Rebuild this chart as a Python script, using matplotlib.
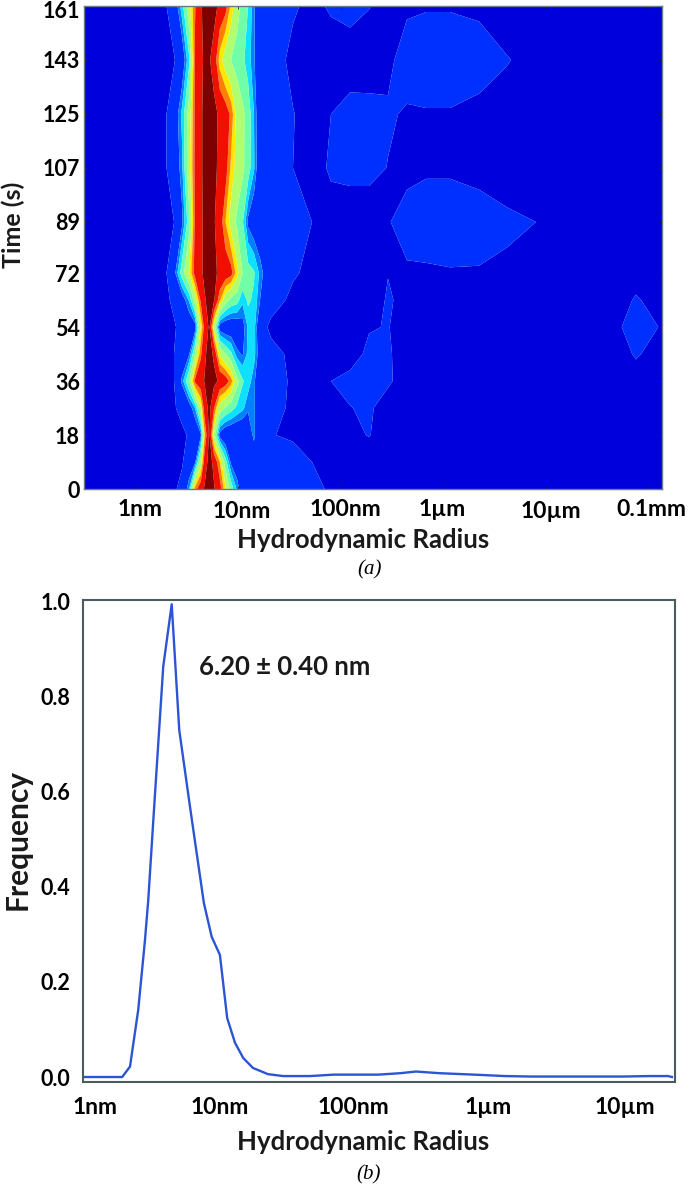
import numpy as np
import matplotlib
matplotlib.use("Agg")
import matplotlib.pyplot as plt
from matplotlib.transforms import ScaledTranslation

plt.rcParams['font.family'] = ['Lato', 'DejaVu Sans']
plt.rcParams['font.weight'] = 'bold'

# panel a: log10(radius / nm) of each column, signal in percent of max per time
log_r = [-0.508, 0.186, 0.298, 0.371, 0.449, 0.518, 0.576, 0.632, 0.669, 0.716, 0.762, 0.818, 0.874,
         0.928, 0.986, 1.041, 1.094, 1.152, 1.211, 1.318, 1.533, 1.719, 1.904, 2.09, 2.275, 2.461,
         2.646, 2.832, 3.066, 3.35, 3.623, 3.906, 4.277, 4.512, 4.697, 4.883, 5.137]
time_s = [0, 9, 18, 27, 36, 45, 54, 63, 72, 89, 107, 125, 143, 161]

t0 = [2, 5, 7, 8.5, 13, 32, 73, 86, 91, 96, 91, 83, 64, 46, 31, 18, 16, 15, 15, 15, 14, 12, 9, 6, 5, 5, 5, 4, 4, 4, 4, 3, 3, 3, 3, 3, 2]
t9 = [2, 4, 6, 7, 9, 16, 24, 56, 84, 94, 87, 70, 44, 24, 18, 15, 15, 19, 15, 14, 13, 10, 7, 5, 5, 5, 5, 4, 4, 4, 4, 3, 3, 3, 3, 3, 2]
t18 = [2, 4, 5, 6, 8, 11, 16, 24, 68, 92, 55, 22, 16, 15, 14, 14, 20, 28, 14, 10.3, 9, 8, 6, 8, 10.4, 6, 5, 4, 4, 4, 4, 3, 3, 3, 3, 3, 2]
t27 = [2, 5, 7, 9, 13, 20, 32, 60, 84, 93, 78, 56, 49, 44, 38, 34, 27, 28, 14, 12, 9, 7, 6, 9.8, 11, 7, 5, 5, 5, 4, 4, 3, 3, 3, 3, 4, 3]
t36 = [2, 5, 8, 10, 28, 50, 80, 86, 90.5, 97, 93, 88, 84, 74, 54, 41, 36, 28, 15, 13, 9, 7, 10, 12, 14, 11, 7, 6, 5, 5, 4, 4, 4, 5, 6, 8, 6]
t45 = [2, 5, 8, 10, 17, 25, 50, 76, 88, 94, 88, 60, 50, 42, 28, 25, 34, 35, 20, 13, 8, 6, 6, 7, 11.5, 10.8, 7, 6, 5, 4, 4, 4, 5, 7, 8, 10.5, 8]
t54 = [2, 5, 7, 9, 13, 17, 21, 62, 82, 92, 58, 20, 17, 17, 18, 22, 33, 36, 14, 8, 6, 5, 4, 5, 9.5, 10.3, 7, 6, 5, 4, 4, 4, 5, 7, 9, 13, 9.5]
t63 = [3, 6, 8.5, 12, 20, 33, 55, 80, 89, 93, 91, 72, 55, 47, 44, 34, 42, 38, 26, 14, 8, 6, 5, 5, 8, 10.4, 9, 8, 7.5, 7, 6, 6, 5, 6, 8, 10.5, 8]
t72 = [3, 7, 10, 22, 45, 62, 82, 88, 92, 97, 92, 88, 85, 82, 66, 50, 44, 41, 30, 15, 11, 8, 6, 5, 6, 9.9, 9, 9, 9.5, 9.5, 8.5, 8, 6, 5, 6, 8, 6]
t89 = [2, 5, 8, 10, 24, 46, 80, 87, 93, 96, 91, 84, 70, 57, 48, 41, 24, 18, 16, 15, 13, 10, 7, 6, 6, 9.5, 13, 14, 14, 13, 11.5, 10, 6, 5, 4, 4, 3]
t107 = [3, 7, 10, 17, 30, 58, 80, 88, 93, 97, 93, 87, 83, 68, 58, 52, 45, 33, 17, 15, 10, 7, 11, 12, 12, 9.8, 8, 9, 9, 8, 6, 4, 3, 3, 3, 3, 2]
t125 = [3, 7, 10, 18, 34, 55, 80, 88, 93, 97, 93, 88, 84, 76, 58, 52, 46, 32, 17, 15, 10.3, 7, 10, 12, 12.5, 10.8, 9.3, 9.5, 9.5, 8.5, 6, 5, 4, 3, 3, 3, 2]
t143 = [2, 5, 7, 9, 18, 38, 80, 87, 92, 91, 85, 66, 56, 50, 46, 42, 36, 27, 17, 14, 8, 5, 6, 7, 6, 8.5, 13, 14, 14, 12.5, 10.5, 7, 3, 3, 3, 3, 2]
t161 = [2, 6, 10, 18, 36, 58, 77, 88, 95, 97, 94, 87, 82, 68, 54, 47, 40, 27, 17, 15, 11, 8, 11, 12, 10.3, 7, 9, 9.5, 9.5, 9, 5, 3, 3, 3, 3, 3, 2]

level_edges = [0, 10, 26, 32, 40, 50, 62, 70, 78, 90, 100]
level_colors = ['#0000dc', '#0030ff', '#0080ff', '#10e0ff', '#70ffa8', '#b0ff70',
                '#ffe800', '#ff8000', '#f01000', '#7f0000']

y_ticks = [0, 18, 36, 54, 72, 89, 107, 125, 143, 161]
size_ticks_a = [0, 1, 2, 3, 4, 5]
size_names_a = ['1nm', '10nm', '100nm', '1µm', '10µm', '0.1mm']
# the pasted labels sit a little off their ticks (pixels right, pixels down)
label_nudge_a = [(4.5, 0), (3.5, 2), (4.5, 0), (-1, 0), (5, 2), (3, 0)]

# panel b: mean size distribution
b_log_r = [-0.045, 0.236, 0.295, 0.357, 0.408, 0.433, 0.476, 0.546, 0.610, 0.667, 0.748, 0.853, 0.912,
           0.974, 1.029, 1.088, 1.150, 1.224, 1.337, 1.450, 1.654, 1.835, 2.168, 2.334, 2.455, 2.636,
           2.893, 3.127, 3.323, 3.693, 4.018, 4.222, 4.358, 4.388]
b_freq = [0, 0, 0.022, 0.141, 0.288, 0.373, 0.562, 0.864, 0.995, 0.73, 0.569, 0.366, 0.295,
          0.257, 0.124, 0.072, 0.04, 0.019, 0.006, 0.002, 0.002, 0.005, 0.005, 0.008, 0.0115, 0.008,
          0.005, 0.002, 0.001, 0.001, 0.001, 0.002, 0.002, 0]
size_ticks_b = [0.03, 0.97, 1.98, 3.0, 4.03]
size_names_b = ['1nm', '10nm', '100nm', '1µm', '10µm']
freq_ticks = [0.0, 0.2, 0.4, 0.6, 0.8, 1.0]

W, H = 691, 1186
fig = plt.figure(figsize=(W / 100, H / 100), dpi=100)


def rect(x0, x1, y0, y1):
    # pixel box to figure fractions
    return [x0 / W, 1 - y1 / H, (x1 - x0) / W, (y1 - y0) / H]


# (a) contour map
ax = fig.add_axes(rect(84, 662, 6, 489))
z = np.array([t0, t9, t18, t27, t36, t45, t54, t63, t72, t89, t107, t125, t143, t161])
ax.contourf(log_r, time_s, z, levels=level_edges, colors=level_colors, antialiased=True)
ax.set_xlim(log_r[0], log_r[-1])
ax.set_ylim(0, 161)
ax.set_xticks(size_ticks_a)
ax.set_xticklabels(size_names_a, fontsize=16.5)
ax.set_yticks(y_ticks)
ax.set_yticklabels([str(t) for t in y_ticks], fontsize=15.5)
ax.tick_params(direction='in', top=True, right=True, length=2.5, width=0.6, color='#202040')
ax.tick_params(axis='x', pad=7)
ax.tick_params(axis='y', pad=3)
for lab, (dx, dy) in zip(ax.get_xticklabels(), label_nudge_a):
    lab.set_transform(lab.get_transform() + ScaledTranslation(dx / 100, -dy / 100, fig.dpi_scale_trans))
# keep the top label inside the picture
top_lab = ax.get_yticklabels()[-1]
top_lab.set_transform(top_lab.get_transform() + ScaledTranslation(0, -4 / 100, fig.dpi_scale_trans))
for s in ax.spines.values():
    s.set_color('#6a7a88')
    s.set_linewidth(1.0)

# (b) distribution curve
bx = fig.add_axes(rect(83, 675, 600, 1082))
bx.plot(b_log_r, b_freq, color='#2c55d4', lw=1.7)
bx.set_xlim(-0.060, 4.411)
bx.set_ylim(-0.0105, 1.004)
bx.set_xticks(size_ticks_b)
bx.set_xticklabels(size_names_b, fontsize=16.5)
bx.set_yticks(freq_ticks)
bx.set_yticklabels(['%.1f' % f for f in freq_ticks], fontsize=15.5)
bx.tick_params(length=0)
bx.tick_params(axis='x', pad=11)
bx.tick_params(axis='y', pad=9)
for s in bx.spines.values():
    s.set_color('#4a5c60')
    s.set_linewidth(1.5)

fig.text(285 / W, 1 - 667 / H, '6.20 ± 0.40 nm', fontsize=18.5, ha='center', va='center', color='#1a1a1a')

# outside labels
fig.text(13 / W, 1 - 225 / H, 'Time (s)', rotation=90, fontsize=18, ha='center', va='center', color='#1a1a1a')
fig.text(363 / W, 1 - 540 / H, 'Hydrodynamic Radius', fontsize=18.5, ha='center', va='center', color='#1a1a1a')
fig.text(363 / W, 1 - 1142 / H, 'Hydrodynamic Radius', fontsize=18.5, ha='center', va='center', color='#1a1a1a')
fig.text(18 / W, 1 - 839 / H, 'Frequency', rotation=90, fontsize=21.5, ha='center', va='center', color='#1a1a1a')
fig.text(370 / W, 1 - 570 / H, '(a)', family='Liberation Serif', style='italic', weight='normal', fontsize=15, ha='center', va='center')
fig.text(369 / W, 1 - 1175 / H, '(b)', family='Liberation Serif', style='italic', weight='normal', fontsize=15, ha='center', va='center')

fig.savefig('out.png', dpi=100)
